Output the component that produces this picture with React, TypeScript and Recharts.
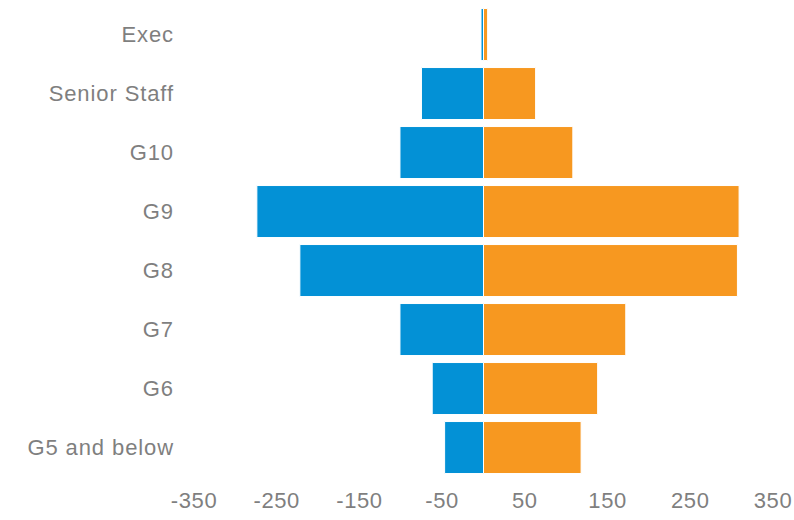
import { BarChart, Bar, XAxis, YAxis } from 'recharts'

const grades = ['Exec', 'Senior Staff', 'G10', 'G9', 'G8', 'G7', 'G6', 'G5 and below']
const blueValues = [-3, -75, -101, -274, -222, -101, -62, -47]
const orangeValues = [5, 63, 108, 309, 307, 172, 138, 118]
const xTicks = [-350, -250, -150, -50, 50, 150, 250, 350]

const data = grades.map((grade, i) => ({
  grade,
  blue: blueValues[i],
  orange: orangeValues[i],
}))

const tickStyle = {
  fill: '#7f7f7f',
  fontSize: 22,
  letterSpacing: 0.9,
  fontFamily: 'Liberation Sans, Arial, sans-serif',
}

export default function App() {
  return (
    <div style={{ position: 'absolute', left: 0, top: 0, width: 794, height: 520, background: '#fff' }}>
      <BarChart
        width={794}
        height={520}
        data={data}
        layout="vertical"
        stackOffset="sign"
        barCategoryGap="6%"
        margin={{ top: 5, right: 21, left: 0, bottom: 0 }}
      >
        <XAxis
          type="number"
          domain={[-350, 350]}
          ticks={xTicks}
          axisLine={false}
          tickLine={false}
          tickSize={0}
          tickMargin={15}
          height={43}
          tick={{ ...tickStyle, letterSpacing: 0.6 }}
          interval={0}
        />
        <YAxis
          type="category"
          dataKey="grade"
          axisLine={false}
          tickLine={false}
          tickSize={0}
          tickMargin={20}
          width={194}
          tick={tickStyle}
          interval={0}
        />
        <Bar dataKey="blue" stackId="a" fill="#0391D6" stroke="#fff" strokeWidth={1} isAnimationActive={false} />
        <Bar dataKey="orange" stackId="a" fill="#F79820" stroke="#fff" strokeWidth={1} isAnimationActive={false} />
      </BarChart>
    </div>
  )
}
